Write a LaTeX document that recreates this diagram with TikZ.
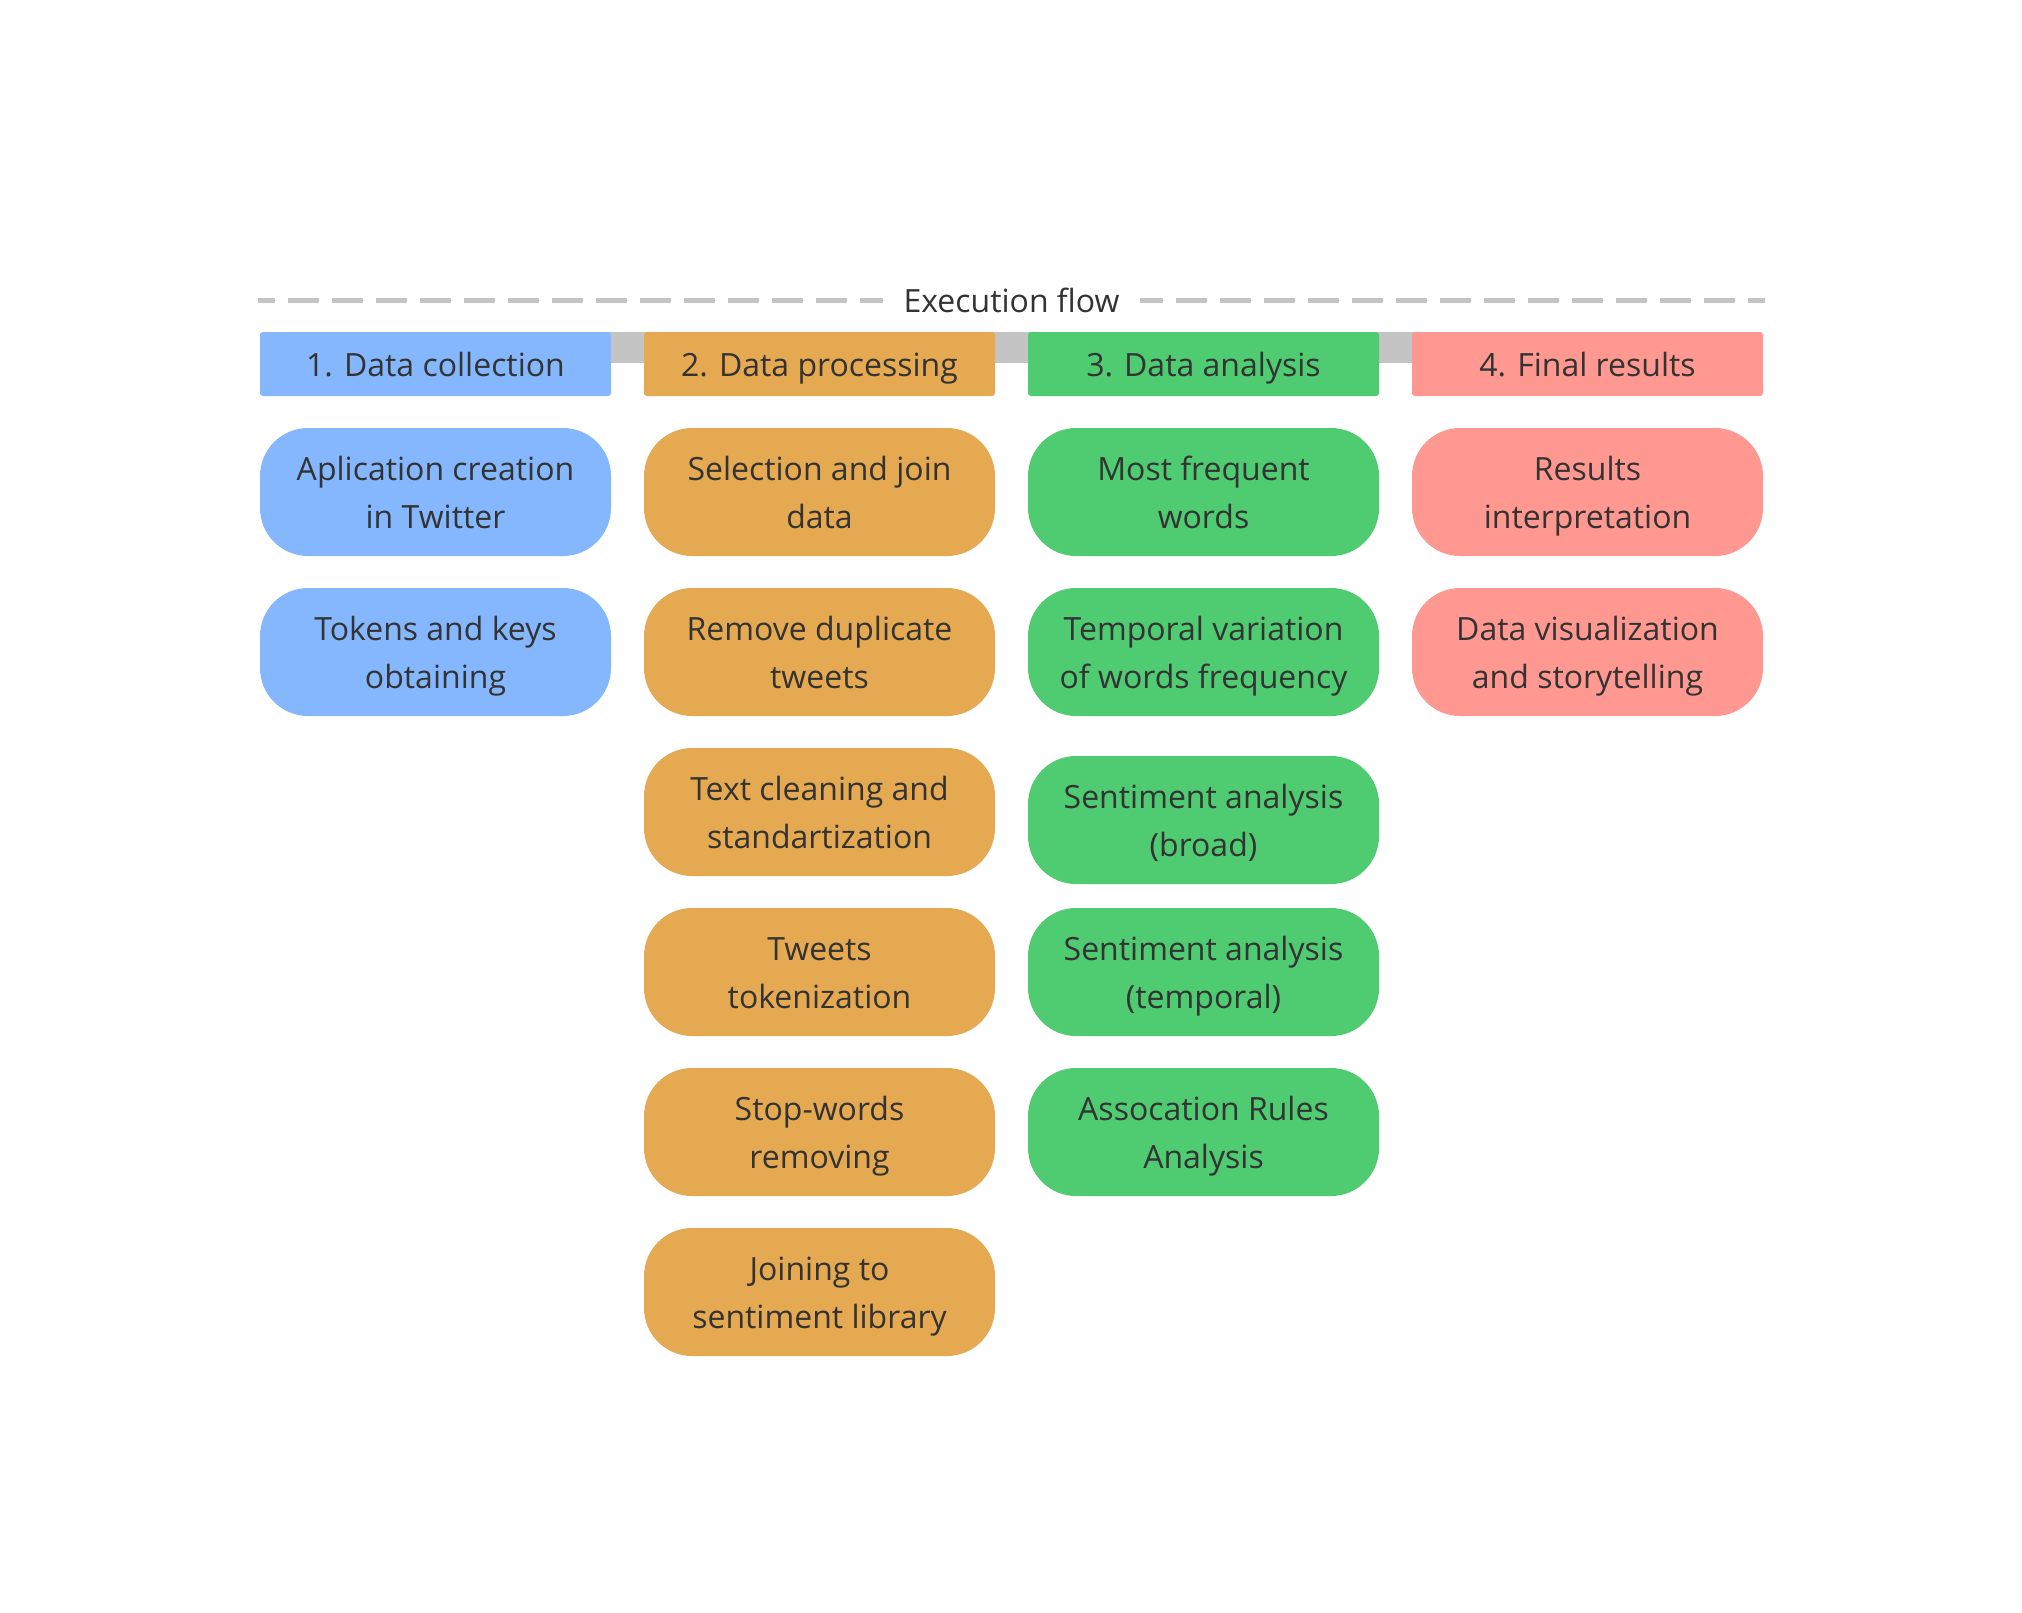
\documentclass[tikz,border=0pt]{standalone}
\usepackage{fontspec}
\setmainfont{Open Sans}
\definecolor{cblue}{HTML}{85B7FF}
\definecolor{corange}{HTML}{E5A951}
\definecolor{cgreen}{HTML}{4FCB71}
\definecolor{cpink}{HTML}{FF9890}
\definecolor{cgray}{HTML}{C4C4C4}
\definecolor{ctext}{HTML}{333333}
\begin{document}
\begin{tikzpicture}[x=0.5pt,y=-0.5pt,
  txt/.style={text=ctext, font=\fontsize{16}{24}\selectfont, align=center, text height=13pt, text depth=1pt},
  head/.style={txt, minimum width=175.5pt, minimum height=32pt, rounded corners=1.5pt, inner sep=0pt},
  task/.style={txt, text height=37pt, text depth=1pt, minimum width=175.5pt, minimum height=64pt, rounded corners=24pt, inner sep=0pt},
  flowdash/.style={cgray, line width=2.5pt, dash pattern=on 15.5pt off 6.5pt, dash phase=7pt}]
\fill[white] (0,0) rectangle (2022,1612);
\useasboundingbox (0,0) rectangle (2022,1612);
% execution flow
\node[txt, inner sep=10pt] (flow) at (1011.5,300) {Execution flow};
\coordinate (dl) at (258,300);
\coordinate (dr) at (1765,300);
\draw[flowdash] (dl) -- (flow.west);
\draw[flowdash] (dr) -- (flow.east);
% gray bar
\coordinate (barl) at (435.5,332);
\coordinate (barr) at (1587.5,363);
\fill[cgray] (barl) rectangle (barr);
% headers
\node[head, fill=cblue] (h1) at (435.5,364) {1. Data collection};
\node[head, fill=corange] (h2) at (819.5,364) {2. Data processing};
\node[head, fill=cgreen] (h3) at (1203.5,364) {3. Data analysis};
\node[head, fill=cpink] (h4) at (1587.5,364) {4. Final results};
% column 1
\node[task, fill=cblue] (a1) at (435.5,492) {Aplication creation\\in Twitter};
\node[task, fill=cblue] (a2) at (435.5,652) {Tokens and keys\\obtaining};
% column 2
\node[task, fill=corange] (b1) at (819.5,492) {Selection and join\\data};
\node[task, fill=corange] (b2) at (819.5,652) {Remove duplicate\\tweets};
\node[task, fill=corange] (b3) at (819.5,812) {Text cleaning and\\standartization};
\node[task, fill=corange] (b4) at (819.5,972) {Tweets\\tokenization};
\node[task, fill=corange] (b5) at (819.5,1132) {Stop-words\\removing};
\node[task, fill=corange] (b6) at (819.5,1292) {Joining to\\sentiment library};
% column 3
\node[task, fill=cgreen] (c1) at (1203.5,492) {Most frequent\\words};
\node[task, fill=cgreen] (c2) at (1203.5,652) {Temporal variation\\of words frequency};
\node[task, fill=cgreen] (c3) at (1203.5,820) {Sentiment analysis\\(broad)};
\node[task, fill=cgreen] (c4) at (1203.5,972) {Sentiment analysis\\(temporal)};
\node[task, fill=cgreen] (c5) at (1203.5,1132) {Assocation Rules\\Analysis};
% column 4
\node[task, fill=cpink] (d1) at (1587.5,492) {Results\\interpretation};
\node[task, fill=cpink] (d2) at (1587.5,652) {Data visualization\\and storytelling};
\end{tikzpicture}
\end{document}
